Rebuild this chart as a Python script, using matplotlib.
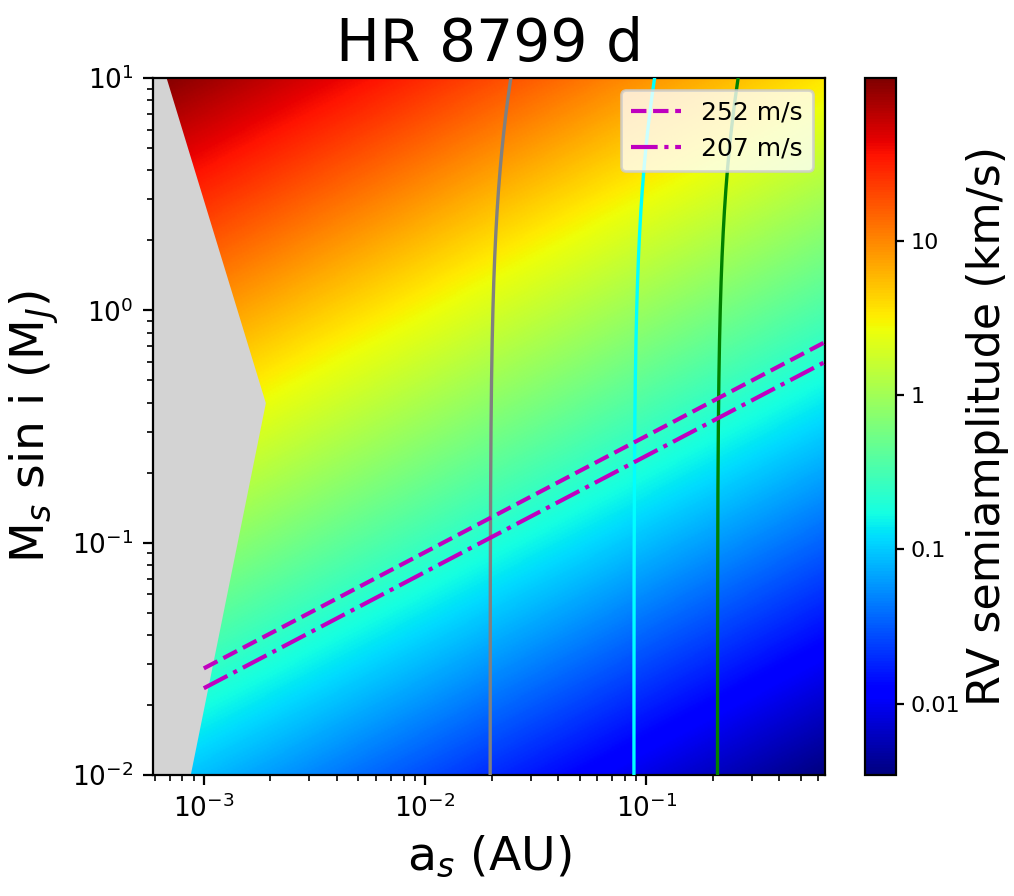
import numpy as np
import matplotlib
matplotlib.use('Agg')
import matplotlib.pyplot as plt
from matplotlib.colors import LogNorm

# axis ranges
a_range = [5.9e-4, 0.646]     # AU
m_range = [1e-2, 1e1]         # M_J

# RV semiamplitude scale: K [km/s] = k_coef * M / sqrt(a)
k_coef = 0.277
host_mass = 11.0              # M_J, sets bend of the vertical curves

# vertical curves (value of a at low mass)
curve_a0 = [0.0197, 0.088, 0.21]
curve_colors = ['gray', 'cyan', 'green']

# constant-RV lines
rv_levels = [252, 207]        # m/s
rv_styles = ['--', '-.']
rv_start = 1e-3

# excluded (gray) region boundary
gray_m = [1e-2, 0.4, 1e1]
gray_a = [8.55e-4, 1.87e-3, 6.66e-4]

fig = plt.figure(figsize=(5.07, 4.48), dpi=200)
ax = fig.add_axes([0.151, 0.135, 0.663, 0.778])
cax = fig.add_axes([0.853, 0.135, 0.031, 0.778])

a_grid = np.logspace(np.log10(a_range[0]), np.log10(a_range[1]), 400)
m_grid = np.logspace(np.log10(m_range[0]), np.log10(m_range[1]), 400)
A, M = np.meshgrid(a_grid, m_grid)
K = k_coef * M / np.sqrt(A)

mesh = ax.pcolormesh(A, M, K, cmap='jet', norm=LogNorm(vmin=K.min(), vmax=K.max()),
                     shading='gouraud', rasterized=True)

ax.fill_betweenx(gray_m, a_range[0], gray_a, color='lightgray', zorder=2)

for a0, c in zip(curve_a0, curve_colors):
    mm = np.logspace(-2, 1, 200)
    ax.plot(a0 * ((host_mass + mm) / host_mass) ** (1 / 3), mm, color=c, lw=1.2, zorder=3)

a_line = np.logspace(np.log10(rv_start), np.log10(a_range[1]), 200)
for lev, ls in zip(rv_levels, rv_styles):
    ax.plot(a_line, lev / 1000 / k_coef * np.sqrt(a_line), color='m', ls=ls, lw=1.5,
            label='%d m/s' % lev, zorder=4)

ax.set_xscale('log')
ax.set_yscale('log')
ax.set_xlim(a_range)
ax.set_ylim(m_range)
ax.tick_params(labelsize=9.5)
ax.set_xlabel(r'a$_s$ (AU)', fontsize=17)
ax.set_ylabel(r'M$_s$ sin i (M$_J$)', fontsize=17)
ax.set_title('HR 8799 d', fontsize=21)
ax.legend(loc='upper right', fontsize=9)

cb = fig.colorbar(mesh, cax=cax)
cb.ax.minorticks_off()
cb.set_ticks([0.01, 0.1, 1, 10])
cb.set_ticklabels(['0.01', '0.1', '1', '10'])
cb.ax.tick_params(labelsize=8, length=3, pad=2)
fig.text(0.974, 0.524, 'RV semiamplitude (km/s)', fontsize=16, rotation=90,
         ha='center', va='center')

fig.savefig('out.png', dpi=200)
